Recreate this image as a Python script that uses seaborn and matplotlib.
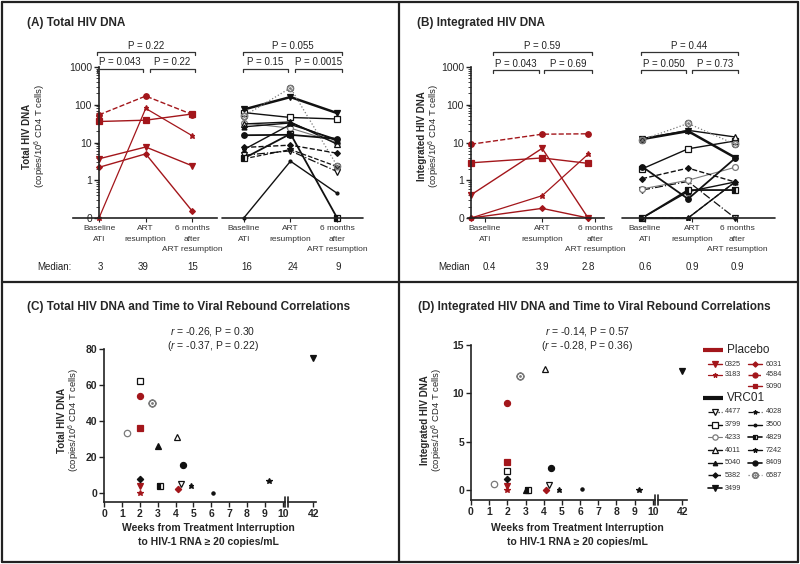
import numpy as np
import matplotlib
matplotlib.use("Agg")
import matplotlib.pyplot as plt
import matplotlib.transforms as mtransforms
from matplotlib.lines import Line2D
import seaborn as sns

sns.set_theme(style="ticks")
plt.rcParams['font.family'] = ['Liberation Sans', 'DejaVu Sans']
plt.rcParams['mathtext.fontset'] = 'custom'
plt.rcParams['mathtext.rm'] = 'Liberation Sans'
plt.rcParams['mathtext.it'] = 'Liberation Sans:italic'
plt.rcParams['mathtext.bf'] = 'Liberation Sans:bold'

# ---------------- data ----------------
placebo_ids = ['0325', '3183', '6031', '4584', '9090']
vrc01_ids = ['4477', '3799', '4233', '4011', '5040', '5382', '3499',
             '4028', '3500', '4829', '7242', '8409', '6587']

timepoints = ['Baseline\nATI', 'ART\nresumption', '6 months\nafter\nART resumption']

# Total HIV DNA (copies/10^6 CD4 T cells)
placebo_total_ati = [3.7, 0, 2.2, 54, 36]
placebo_total_art = [7.6, 80, 5.0, 170, 39]
placebo_total_6mo = [2.4, 15, 0.15, 55, 57]
vrc01_total_ati = [4.6, 62, 33, 31, 26, 7.4, 75, 3.7, 0, 3.8, 6.5, 15.6, 50]
vrc01_total_art = [6, 46, 24, 35, 33, 8.5, 160, 6.5, 3.2, 17, 30, 16, 280]
vrc01_total_6mo = [1.7, 42, 10, 9, 11, 5.2, 60, 2.3, 0.45, 0, 12, 12.5, 2.4]

# Integrated HIV DNA (copies/10^6 CD4 T cells)
placebo_int_ati = [0.41, 0, 0, 9.0, 2.9]
placebo_int_art = [7.0, 0.39, 0.18, 16.6, 3.9]
placebo_int_6mo = [0, 4.9, 0, 17, 2.8]
vrc01_int_ati = [0.55, 2.0, 0.59, 12.5, 0, 1.1, 12.3, 0, 0.1, 0, 0, 2.3, 11.8]
vrc01_int_art = [0.93, 6.8, 1.0, 21, 0.5, 2.1, 20, 0, 0, 0.55, 0, 0.32, 32]
vrc01_int_6mo = [0, 11, 2.2, 14, 0.9, 0.9, 4, 0.9, 0, 0.55, 0.9, 3.8, 9]

# weeks from treatment interruption to HIV-1 RNA >= 20 copies/mL
placebo_weeks = [2.0, 2.0, 4.15, 2.0, 2.0]
vrc01_weeks = [4.3, 2.0, 1.25, 4.1, 3.0, 2.0, 42, 4.85, 6.1, 3.15, 9.25, 4.4, 2.7]

total_medians = ['3', '39', '15', '16', '24', '9']
int_medians = ['0.4', '3.9', '2.8', '0.6', '0.9', '0.9']
total_pvals = ['P = 0.043', 'P = 0.22', 'P = 0.22', 'P = 0.15', 'P = 0.0015', 'P = 0.055']
int_pvals = ['P = 0.043', 'P = 0.69', 'P = 0.59', 'P = 0.050', 'P = 0.73', 'P = 0.44']

# ---------------- styles ----------------
RED = '#a3161b'
BLK = '#111111'
GRY = '#7a7a7a'
AXC = '#222222'
ZERO = 0.1  # where "0" sits on the log axis

# marker, fill, color, linestyle, linewidth, marker scale
STYLES = {
    '0325': ('v', 'full', RED, '-', 1.0, 1.0),
    '3183': ('*', 'full', RED, '-', 0.9, 0.9),
    '6031': ('D', 'full', RED, '-', 1.0, 0.7),
    '4584': ('o', 'full', RED, '--', 1.0, 0.95),
    '9090': ('s', 'full', RED, '-', 1.0, 0.9),
    '4477': ('v', 'open', BLK, '-.', 0.9, 1.0),
    '3799': ('s', 'open', BLK, '-', 1.0, 0.95),
    '4233': ('o', 'open', GRY, '-', 0.8, 1.0),
    '4011': ('^', 'open', BLK, '-', 1.0, 1.0),
    '5040': ('^', 'full', BLK, '-', 1.0, 0.85),
    '5382': ('D', 'full', BLK, '--', 1.0, 0.7),
    '3499': ('v', 'full', BLK, '-', 1.8, 1.0),
    '4028': ('*', 'full', BLK, '--', 0.9, 0.8),
    '3500': ('o', 'full', BLK, '-', 1.0, 0.5),
    '4829': ('s', 'half', BLK, '-', 1.3, 0.9),
    '7242': ('*', 'full', BLK, '-', 1.0, 0.9),
    '8409': ('o', 'full', BLK, '-', 1.3, 0.95),
    '6587': (r'$\odot$', 'full', GRY, ':', 0.9, 1.1),
}


def style_kw(pid, ms, lines=True):
    marker, fill, color, ls, lw, scale = STYLES[pid]
    kw = dict(marker=marker, color=color, mec=color, mew=0.9, ms=ms * scale,
              linestyle=ls if lines else 'none', lw=lw)
    if fill == 'open':
        kw['mfc'] = 'white'
    elif fill == 'half':
        kw.update(mfc=color, fillstyle='left', markerfacecoloralt='white')
    else:
        kw['mfc'] = color
    return kw


W, H = 800, 564
fig = plt.figure(figsize=(W / 100, H / 100), dpi=100)


def px_axes(l, t, r, b):
    return fig.add_axes([l / W, 1 - b / H, (r - l) / W, (b - t) / H])


def fig_text(x, y, s, **kw):
    fig.text(x / W, 1 - y / H, s, **kw)


def fig_line(xs, ys, **kw):
    fig.add_artist(Line2D([x / W for x in xs], [1 - y / H for y in ys],
                          transform=fig.transFigure, **kw))


def bracket(x0, x1, y, text, drop=3):
    fig_line([x0, x0, x1, x1], [y + drop, y, y, y + drop], color='#333333', lw=0.9)
    fig_text((x0 + x1) / 2, y - 1.2, text, ha='center', va='bottom', fontsize=7, color='#222222')


# panel borders
for xs, ys in [([2, 798], [2, 2]), ([2, 798], [562, 562]), ([2, 2], [2, 562]),
               ([798, 798], [2, 562]), ([2, 798], [281.5, 281.5]), ([399, 399], [2, 562])]:
    fig_line(xs, ys, color=AXC, lw=1.6)


# ---------------- top panels ----------------
LABEL_ROWS = [229, 239.5, 250]


def setup_top(ax, xlim, ticks, gap):
    ax.set_yscale('log')
    ax.set_ylim(ZERO, 1000)
    ax.set_xlim(*xlim)
    ax.set_yticks([ZERO, 1, 10, 100, 1000])
    ax.set_yticklabels(['0', '1', '10', '100', '1000'], fontweight='bold')
    ax.set_xticks(ticks)
    ax.set_xticklabels([])
    ax.tick_params(axis='x', length=3, width=0.8, pad=2, color=AXC)
    ax.tick_params(axis='y', which='major', length=3.5, width=1, labelsize=7.5, pad=1.5, color=AXC)
    ax.tick_params(axis='y', which='minor', length=2, width=0.6, color=AXC)
    ax.spines[['top', 'right']].set_visible(False)
    ax.spines['left'].set_position(('data', 0))
    for sp in ['left', 'bottom']:
        ax.spines[sp].set_color(AXC)
        ax.spines[sp].set_linewidth(1.2)
    ax.spines['bottom'].set_bounds(xlim[0], gap[0])
    ax.axhline(ZERO, xmin=(gap[1] - xlim[0]) / (xlim[1] - xlim[0]), xmax=1,
               color=AXC, lw=1.2, clip_on=False)
    ax.set_xlabel('')
    ax.set_ylabel('')
    # category labels, one text per line
    trans = mtransforms.blended_transform_factory(ax.transData, fig.transFigure)
    for x, lab in zip(ticks, timepoints * 2):
        for row, line in zip(LABEL_ROWS, lab.split('\n')):
            ax.text(x, 1 - row / H, line, transform=trans, ha='center', va='center',
                    fontsize=6, color='#333333')


def draw_lines(ax, ids, arrays, pos):
    for i, pid in enumerate(ids):
        vals = np.array([arr[i] for arr in arrays], dtype=float)
        y = np.where(vals > 0, vals, ZERO)
        sns.lineplot(x=pos, y=y, ax=ax, errorbar=None, clip_on=False, **style_kw(pid, 4.2))


# Panel A
axA = px_axes(73, 67, 363, 218)
axA.set_yscale('log')
pos_A = [0, 1, 2, 3.1, 4.1, 5.1]
draw_lines(axA, placebo_ids, [placebo_total_ati, placebo_total_art, placebo_total_6mo], pos_A[:3])
draw_lines(axA, vrc01_ids, [vrc01_total_ati, vrc01_total_art, vrc01_total_6mo], pos_A[3:])
setup_top(axA, (-0.557, 5.653), pos_A, (2.53, 2.63))

# Panel B
axB = px_axes(468, 67, 775, 218)
axB.set_yscale('log')
pos_B = [0, 1.53, 2.52, 3.68, 4.67, 5.68]
ticks_B = [0.3, 1.53, 2.67, 3.74, 4.75, 5.72]
draw_lines(axB, placebo_ids, [placebo_int_ati, placebo_int_art, placebo_int_6mo], pos_B[:3])
draw_lines(axB, vrc01_ids, [vrc01_int_ati, vrc01_int_art, vrc01_int_6mo], pos_B[3:])
setup_top(axB, (-0.065, 6.54), ticks_B, (2.86, 3.25))

# brackets with P values (pixel spans)
for spans, pv in [([(97, 143, 68.5), (150, 195, 68.5), (97, 195, 52),
                    (243, 288, 68.5), (295, 342, 68.5), (243, 342, 52)], total_pvals),
                  ([(493, 539, 70), (544, 592, 70), (493, 592, 52),
                    (641, 686, 70), (692, 738, 70), (641, 738, 52)], int_pvals)]:
    for (x0, x1, y), t in zip(spans, pv):
        bracket(x0, x1, y, t)

# medians
fig_text(72, 267, 'Median:', ha='right', va='center', fontsize=7, color='#222222')
for x, m in zip([100, 143, 193, 247, 293, 338], total_medians):
    fig_text(x, 267, m, ha='center', va='center', fontsize=7, color='#222222')
fig_text(470, 267, 'Median', ha='right', va='center', fontsize=7, color='#222222')
for x, m in zip([489, 542, 588, 645, 692, 737], int_medians):
    fig_text(x, 267, m, ha='center', va='center', fontsize=7, color='#222222')

# titles and y labels
fig_text(27, 23, '(A) Total HIV DNA', fontsize=8.5, fontweight='bold', va='center')
fig_text(417, 23, '(B) Integrated HIV DNA', fontsize=8.5, fontweight='bold', va='center')
fig_text(27, 307, '(C) Total HIV DNA and Time to Viral Rebound Correlations',
         fontsize=8.5, fontweight='bold', va='center')
fig_text(418, 307, '(D) Integrated HIV DNA and Time to Viral Rebound Correlations',
         fontsize=8.5, fontweight='bold', va='center')

unit_label = '(copies/10$^{6}$ CD4 T cells)'
for x1, x2, yc, name in [(27, 40, 136, 'Total HIV DNA'), (422, 434, 136, 'Integrated HIV DNA'),
                         (62, 74, 420, 'Total HIV DNA'), (425, 437, 420, 'Integrated HIV DNA')]:
    fig_text(x1, yc, name, rotation=90, ha='center', va='center', fontsize=7, fontweight='bold')
    fig_text(x2, yc, unit_label, rotation=90, ha='center', va='center', fontsize=6.8)


# ---------------- bottom panels ----------------
def setup_scatter(ax, ax2, ylim, yticks):
    for a in (ax, ax2):
        a.set_ylim(*ylim)
        a.spines[['top', 'right']].set_visible(False)
        for sp in ['left', 'bottom']:
            a.spines[sp].set_color(AXC)
            a.spines[sp].set_linewidth(1.2)
        a.tick_params(length=3.5, width=1, labelsize=7.5, pad=1.5, color=AXC)
        a.set_xlabel('')
        a.set_ylabel('')
    ax.set_xlim(0, 10.15)
    ax.set_xticks(range(0, 11))
    ax.set_yticks(yticks)
    for lab in ax.get_xticklabels() + ax.get_yticklabels():
        lab.set_fontweight('bold')
    ax2.spines['left'].set_visible(False)
    ax2.set_yticks([])
    ax2.set_xticks([42])
    ax2.set_xticklabels(['42'], fontweight='bold')
    ax2.patch.set_alpha(0)


def draw_scatter(ax, ax2, ids, weeks, vals):
    for pid, wk, v in zip(ids, weeks, vals):
        target = ax2 if wk > 10.5 else ax
        sns.lineplot(x=[wk], y=[v], ax=target, errorbar=None, clip_on=False,
                     **style_kw(pid, 4.6, lines=False))


def scatter_panel(main_px, brk_px, x42, ylim, yticks, yvals_p, yvals_v):
    l, t, r, b = main_px
    ax = px_axes(l, t, r, b)
    ax2 = px_axes(brk_px[0], t, brk_px[1], b)
    ppu = (r - l) / 10.15
    xlim2 = (42 - (x42 - brk_px[0]) / ppu, 42 + (brk_px[1] - x42) / ppu)
    draw_scatter(ax, ax2, placebo_ids, placebo_weeks, yvals_p)
    draw_scatter(ax, ax2, vrc01_ids, vrc01_weeks, yvals_v)
    setup_scatter(ax, ax2, ylim, yticks)
    ax2.set_xlim(*xlim2)
    for xb in (r, brk_px[0]):
        fig_line([xb, xb], [b - 5, b + 5], color=AXC, lw=1.2)
    return ax


axC = scatter_panel((104.3, 349, 285.3, 501.7), (288.3, 316.5), 313.3, (-5, 80),
                    [0, 20, 40, 60, 80], placebo_total_ati, vrc01_total_ati)
axD = scatter_panel((471, 345, 655.4, 500), (658.4, 686.5), 682.3, (-1.03, 15),
                    [0, 5, 10, 15], placebo_int_ati, vrc01_int_ati)

for xc, l1, l2 in [(213, '$r$ = -0.26, P = 0.30', '($r$ = -0.37, P = 0.22)'),
                   (587, '$r$ = -0.14, P = 0.57', '($r$ = -0.28, P = 0.36)')]:
    fig_text(xc, 332, l1, ha='center', va='center', fontsize=7.5)
    fig_text(xc, 346, l2, ha='center', va='center', fontsize=7.5)

for xc in (208, 577):
    fig_text(xc, 528, 'Weeks from Treatment Interruption', ha='center', va='center',
             fontsize=7.5, fontweight='bold')
    fig_text(xc, 542, 'to HIV-1 RNA \u2265 20 copies/mL', ha='center', va='center',
             fontsize=7.5, fontweight='bold')

# ---------------- legend ----------------
leg = px_axes(690, 335, 800, 500)
leg.set_xlim(690, 800)
leg.set_ylim(500, 335)
leg.axis('off')

leg.plot([703, 723], [350, 350], color=RED, lw=3, solid_capstyle='butt')
leg.text(727, 350, 'Placebo', va='center', fontsize=8.5)
leg.plot([703, 723], [398, 398], color=BLK, lw=3, solid_capstyle='butt')
leg.text(727, 398, 'VRC01', va='center', fontsize=8.5)

placebo_rows = [(0, 364), (0, 375), (1, 364), (1, 375), (1, 386)]
vrc01_rows = [(0, 411.7), (0, 424.5), (0, 437.3), (0, 450), (0, 462.7), (0, 475.4), (0, 488.2),
              (1, 411.7), (1, 424.5), (1, 437.3), (1, 450), (1, 462.7), (1, 475.4)]
col_marker = [715, 755]
col_text = [725, 766]
for ids, rows in [(placebo_ids, placebo_rows), (vrc01_ids, vrc01_rows)]:
    for pid, (c, y) in zip(ids, rows):
        xm = col_marker[c]
        kw = style_kw(pid, 3.8)
        kw['lw'] = min(kw['lw'], 1.2)
        leg.plot([xm - 7, xm, xm + 7], [y, y, y], markevery=[1], **kw)
        leg.text(col_text[c], y, pid, va='center', fontsize=5.2, color='#333333')

fig.savefig('out.png', dpi=100)
